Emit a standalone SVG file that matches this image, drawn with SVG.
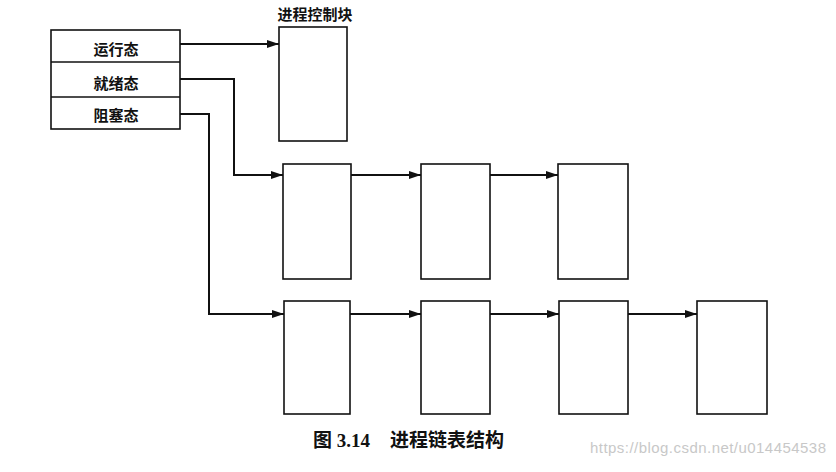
<svg xmlns="http://www.w3.org/2000/svg" width="836" height="472" viewBox="0 0 836 472">
<style>
.box{fill:#fff;stroke:#111;stroke-width:1.6}
.lbl{font-family:"Noto Sans CJK SC",sans-serif;font-size:15px;font-weight:bold;fill:#111;text-anchor:middle}
.con{fill:none;stroke:#111;stroke-width:2}
.cap{font-family:"Liberation Serif","Noto Sans CJK SC",serif;font-size:19px;font-weight:bold;fill:#111}
.wm{font-family:"Liberation Sans",sans-serif;font-size:15px;fill:#c8c8c8}
</style>
<defs>
<marker id="ah" markerWidth="12" markerHeight="8" refX="12" refY="4" orient="auto" markerUnits="userSpaceOnUse">
<path d="M0,0 L12,4 L0,8 Z" fill="#111"/>
</marker>
</defs>
<rect width="836" height="472" fill="#fff"/>
<g id="states">
<rect class="box" x="51" y="30" width="129" height="99"/>
<line x1="51" y1="62" x2="180" y2="62" stroke="#111" stroke-width="1.4"/>
<line x1="51" y1="97" x2="180" y2="97" stroke="#111" stroke-width="1.4"/>
<text class="lbl" x="116" y="55">运行态</text>
<text class="lbl" x="116" y="89">就绪态</text>
<text class="lbl" x="116" y="121">阻塞态</text>
</g>
<g id="pcb">
<text class="lbl" x="315" y="20">进程控制块</text>
<rect class="box" x="279" y="27" width="68" height="114"/>
</g>
<g id="r1b1"><rect class="box" x="283" y="164" width="68" height="115"/></g>
<g id="r1b2"><rect class="box" x="421" y="164" width="69" height="115"/></g>
<g id="r1b3"><rect class="box" x="558" y="164" width="70" height="115"/></g>
<g id="r2b1"><rect class="box" x="284" y="301" width="66" height="113"/></g>
<g id="r2b2"><rect class="box" x="421" y="301" width="69" height="113"/></g>
<g id="r2b3"><rect class="box" x="559" y="301" width="69" height="113"/></g>
<g id="r2b4"><rect class="box" x="697" y="301" width="70" height="113"/></g>
<g id="connectors">
<path class="con" d="M180,44 H279" marker-end="url(#ah)"/>
<path class="con" d="M180,79 H234 V175 H283" marker-end="url(#ah)"/>
<path class="con" d="M180,114 H209 V314 H284" marker-end="url(#ah)"/>
<path class="con" d="M351,175 H421" marker-end="url(#ah)"/>
<path class="con" d="M490,175 H558" marker-end="url(#ah)"/>
<path class="con" d="M350,314 H421" marker-end="url(#ah)"/>
<path class="con" d="M490,314 H559" marker-end="url(#ah)"/>
<path class="con" d="M628,314 H697" marker-end="url(#ah)"/>
</g>
<text class="cap" x="313" y="447">图 3.14<tspan x="390">进程链表结构</tspan></text>
<text class="wm" x="590" y="453" textLength="236">https://blog.csdn.net/u014454538</text>
</svg>
